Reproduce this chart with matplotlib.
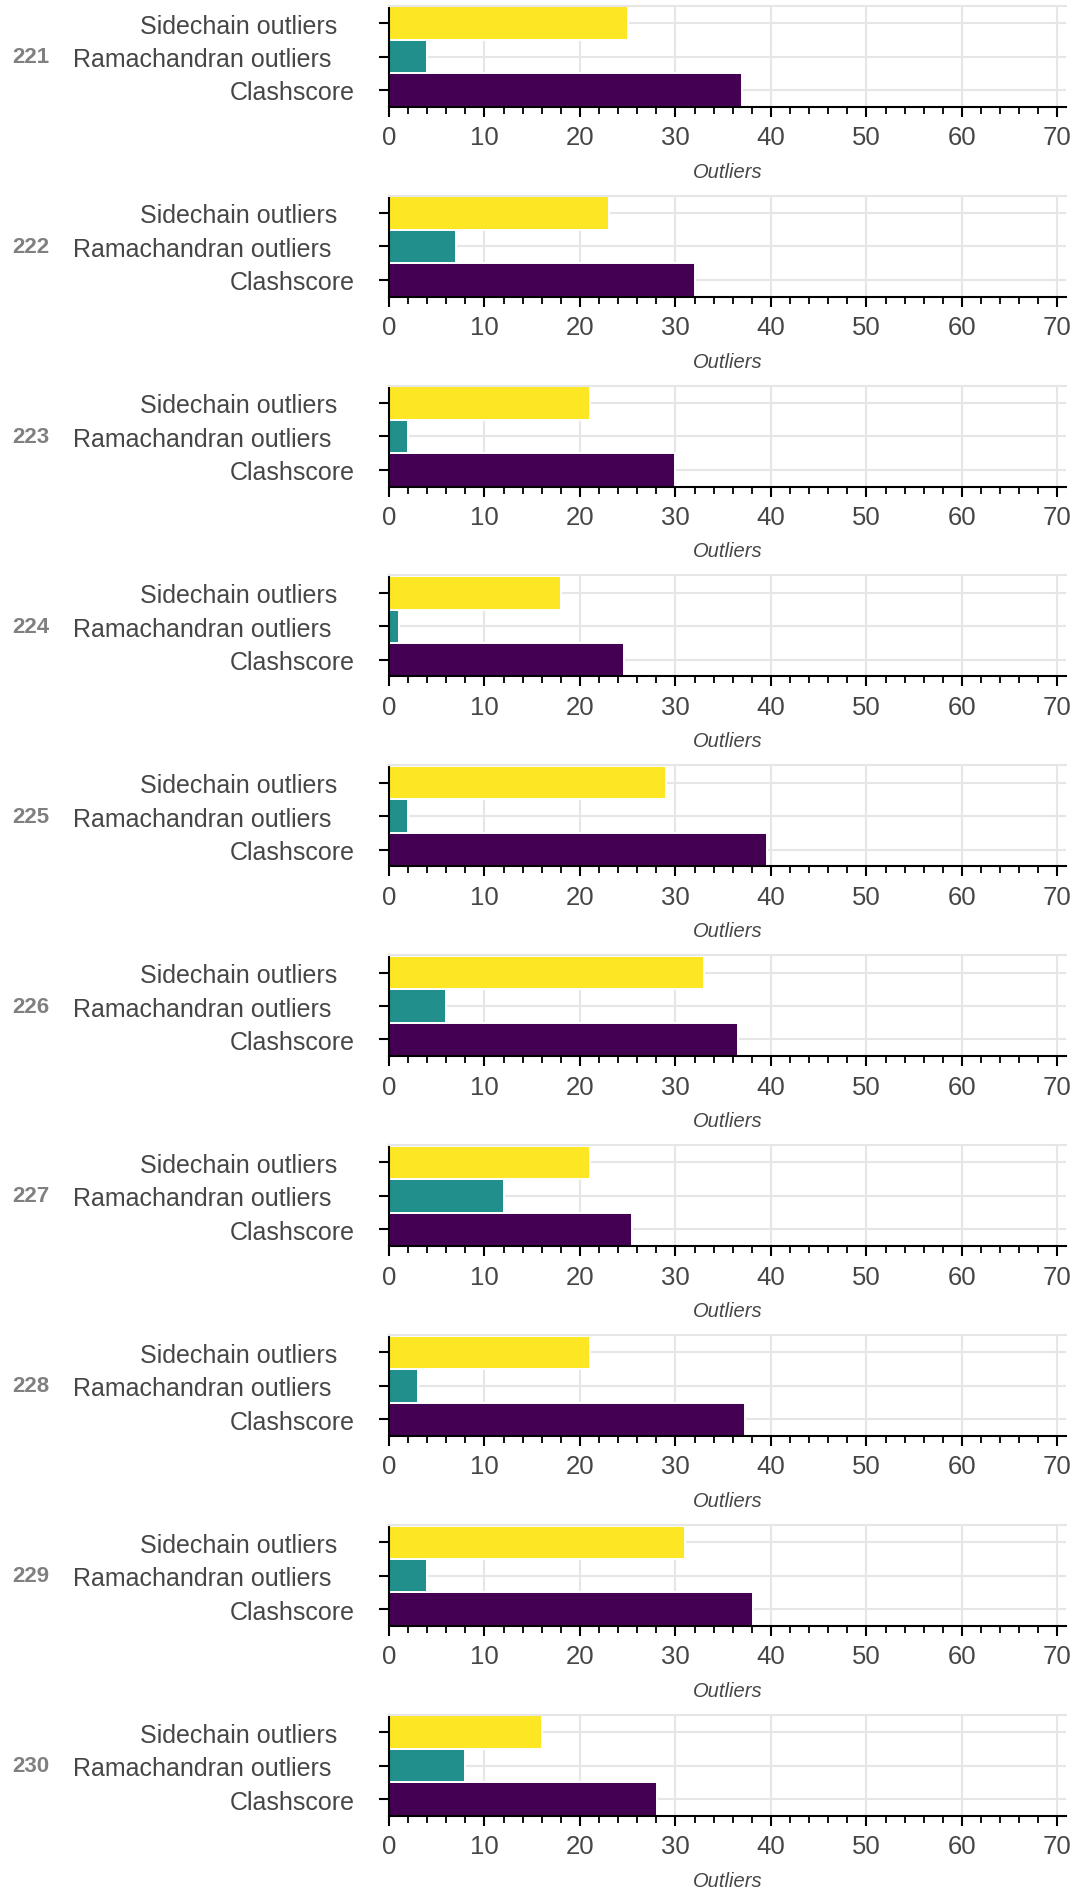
import numpy as np
import matplotlib
matplotlib.use("Agg")
import matplotlib.pyplot as plt
from matplotlib.ticker import MultipleLocator
from matplotlib.transforms import ScaledTranslation, blended_transform_factory

plt.rcParams["font.family"] = ["Liberation Sans", "DejaVu Sans"]

# one panel per model
MODELS = ["221", "222", "223", "224", "225", "226", "227", "228", "229", "230"]
METRICS = ["Clashscore", "Ramachandran outliers", "Sidechain outliers"]
COLORS = ["#440154", "#21908d", "#fde725"]

CLASHSCORE = [37.0, 32.0, 30.0, 24.6, 39.6, 36.5, 25.4, 37.3, 38.1, 28.1]
RAMA_OUTLIERS = [4, 7, 2, 1, 2, 6, 12, 3, 4, 8]
SIDECHAIN_OUTLIERS = [25, 23, 21, 18, 29, 33, 21, 21, 31, 16]

XMAX = 70.9
TEXT = "#464646"

W, H = 1071, 1890
fig = plt.figure(figsize=(W / 100, H / 100), dpi=100)

# horizontal pixel shift of each category label (Clash, Rama, Sidechain)
label_shift = [0, -24, -18]

for i, model in enumerate(MODELS):
    top = 6.7 + 189.9 * i
    ax = fig.add_axes([389 / W, 1 - (top + 101) / H, (1066 - 389) / W, 101 / H])

    vals = [CLASHSCORE[i], RAMA_OUTLIERS[i], SIDECHAIN_OUTLIERS[i]]
    ypos = np.arange(len(METRICS))
    ax.barh(ypos, vals, height=1.0, color=COLORS, edgecolor="white",
            linewidth=1.4, zorder=2)

    ax.set_xlim(0, XMAX)
    ax.set_ylim(-0.5, 2.52)
    ax.set_yticks(ypos)
    ax.set_yticklabels(METRICS)
    ax.xaxis.set_major_locator(MultipleLocator(10))
    ax.xaxis.set_minor_locator(MultipleLocator(2))

    ax.set_axisbelow(True)
    ax.grid(True, which="major", color="#e6e6e6", linewidth=1.5)

    for side in ("left", "bottom"):
        ax.spines[side].set_color("black")
        ax.spines[side].set_linewidth(1.5)
    ax.spines["top"].set_color("#e6e6e6")
    ax.spines["top"].set_linewidth(1.5)
    ax.spines["right"].set_visible(False)

    ax.tick_params(axis="x", which="major", direction="out", length=7,
                   width=1.5, pad=6.3, labelsize=18.5, labelcolor=TEXT)
    ax.tick_params(axis="x", which="minor", direction="out", length=5,
                   width=1.3)
    ax.tick_params(axis="y", which="major", direction="out", length=7.2,
                   width=1.5, pad=17.3, labelsize=18, labelcolor=TEXT)

    for lab, dx in zip(ax.get_yticklabels(), label_shift):
        lab.set_transform(lab.get_transform()
                          + ScaledTranslation(dx / 100, 0, fig.dpi_scale_trans))

    ax.set_xlabel("Outliers", fontsize=14.5, style="italic", color=TEXT,
                  va="center")
    ax.xaxis.set_label_coords(0.5, -64.4 / 101)

    # model number next to the middle row
    ax.text(12 / W, 1, model, transform=blended_transform_factory(fig.transFigure, ax.transData),
            ha="left", va="center", fontsize=16, fontweight="bold",
            color="#808080")

fig.savefig("out.png", dpi=100)
